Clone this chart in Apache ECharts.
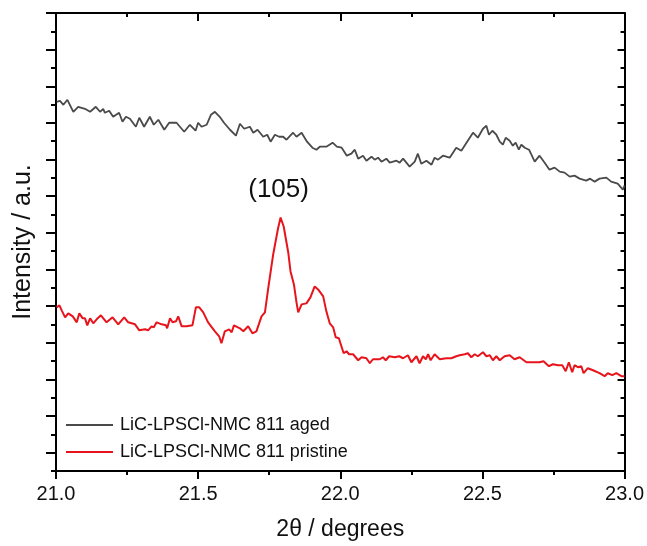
<!DOCTYPE html>
<html>
<head>
<meta charset="utf-8">
<title>XRD (105) region</title>
<script src="https://cdn.jsdelivr.net/npm/echarts@6/dist/echarts.min.js"></script>
<style>
  html, body { margin: 0; padding: 0; background: #fff; }
  #chart { width: 647px; height: 546px; }
</style>
</head>
<body>
<div id="chart"></div>
<script>
// 2θ (degrees) and intensity (a.u.) for the aged sample
const agedTheta = [21.002,21.014,21.026,21.040,21.061,21.078,21.102,21.120,21.140,21.155,21.166,21.172,21.187,21.201,21.222,21.234,21.246,21.260,21.281,21.293,21.310,21.330,21.344,21.360,21.381,21.398,21.424,21.451,21.471,21.491,21.500,21.512,21.530,21.545,21.559,21.576,21.591,21.612,21.633,21.647,21.662,21.682,21.694,21.709,21.729,21.743,21.755,21.770,21.785,21.799,21.811,21.834,21.846,21.864,21.883,21.902,21.916,21.928,21.951,21.973,21.988,22.005,22.023,22.039,22.051,22.063,22.080,22.092,22.110,22.121,22.133,22.145,22.162,22.174,22.198,22.209,22.221,22.244,22.262,22.273,22.285,22.303,22.321,22.332,22.344,22.361,22.385,22.408,22.426,22.444,22.467,22.484,22.502,22.514,22.523,22.535,22.549,22.561,22.572,22.582,22.596,22.607,22.617,22.628,22.637,22.649,22.664,22.684,22.701,22.719,22.736,22.754,22.772,22.789,22.807,22.824,22.842,22.865,22.879,22.895,22.912,22.936,22.953,22.976,22.994,23.000];
const agedIntensity = [370,371,367,372,360,365,363,360,365,360,363,359,361,355,359,350,355,353,345,354,345,355,347,352,342,349,349,340,347,341,349,345,347,357,360,355,349,342,336,348,343,345,339,342,335,337,330,337,335,335,332,339,335,339,330,324,322,325,325,329,325,324,316,318,322,313,316,311,315,312,314,310,313,309,311,309,313,305,310,318,308,311,307,314,312,316,314,324,321,329,339,334,343,346,337,341,337,330,327,334,331,326,329,322,327,324,322,310,316,309,302,304,300,299,295,296,293,291,293,290,293,294,290,288,282,286];

// 2θ (degrees) and intensity (a.u.) for the pristine sample
const pristineTheta = [21.002,21.012,21.020,21.032,21.043,21.059,21.073,21.082,21.094,21.102,21.110,21.120,21.131,21.143,21.158,21.178,21.199,21.219,21.240,21.254,21.278,21.293,21.313,21.324,21.336,21.344,21.354,21.372,21.387,21.391,21.401,21.410,21.422,21.430,21.442,21.459,21.480,21.492,21.504,21.518,21.535,21.559,21.574,21.582,21.594,21.609,21.618,21.626,21.647,21.659,21.676,21.691,21.705,21.723,21.735,21.746,21.764,21.781,21.790,21.801,21.817,21.825,21.837,21.846,21.852,21.864,21.881,21.895,21.910,21.922,21.940,21.951,21.963,21.975,21.984,21.995,22.004,22.012,22.022,22.031,22.045,22.063,22.075,22.092,22.104,22.115,22.139,22.150,22.160,22.172,22.192,22.207,22.221,22.238,22.250,22.268,22.279,22.291,22.301,22.309,22.318,22.332,22.350,22.373,22.391,22.408,22.420,22.438,22.449,22.461,22.473,22.484,22.502,22.514,22.526,22.537,22.549,22.561,22.578,22.596,22.613,22.631,22.655,22.678,22.701,22.715,22.734,22.748,22.766,22.781,22.793,22.804,22.816,22.824,22.836,22.848,22.856,22.871,22.889,22.912,22.930,22.941,22.957,22.971,22.989,23.000];
const pristineIntensity = [164,166,161,154,158,155,149,158,153,153,146,153,148,152,156,149,154,147,154,149,147,141,142,141,145,144,149,147,146,143,153,149,150,155,145,145,146,164,164,159,149,140,135,128,140,142,139,146,143,140,145,138,140,155,159,182,217,243,254,245,219,200,187,169,159,167,168,174,185,182,175,160,148,144,134,133,125,118,120,117,117,111,114,113,108,112,112,114,111,115,114,115,113,116,109,115,108,115,112,117,111,117,112,113,113,115,116,117,118,114,117,115,119,115,116,111,115,111,115,116,112,114,109,109,109,110,105,107,106,106,100,109,99,106,104,105,98,103,101,98,95,98,96,98,95,95];

const seriesNames = ['LiC-LPSCl-NMC 811 aged', 'LiC-LPSCl-NMC 811 pristine'];
const xTickLabels = ['21.0', '21.5', '22.0', '22.5', '23.0'];
const peakLabel = '(105)';
const peakTheta = 21.790;
const peakIntensity = 254;

// intensity axis: 25 half-steps, long ticks on odd half-steps
const yMax = 459;
const yStep = yMax / 25;
const yMajor = [], yMinor = [];
for (let k = 0; k <= 25; k++) {
  (k % 2 === 1 ? yMajor : yMinor).push(+(k * yStep).toFixed(4));
}

const FONT = 'Liberation Sans, Arial, sans-serif';
const INK = '#111';
const AGED = '#4a4a4a';
const PRISTINE = '#e8141c';
const toPairs = (xs, ys) => xs.map((x, i) => [x, ys[i]]);

function xAx(pos, inside, showLabel) {
  return {
    type: 'value', position: pos, min: 21, max: 23, interval: 0.5,
    axisLine: { show: true, onZero: false, lineStyle: { color: '#000', width: 2 } },
    axisTick: { show: true, inside: inside, length: 8, lineStyle: { color: '#000', width: 2 } },
    minorTick: { show: true, splitNumber: 2, length: 4, lineStyle: { color: '#000', width: 2 } },
    axisLabel: {
      show: showLabel, margin: 13, fontSize: 20, color: INK, fontFamily: FONT,
      formatter: v => xTickLabels[Math.round((v - 21) / 0.5)]
    },
    splitLine: { show: false }, minorSplitLine: { show: false }
  };
}

function yAx(pos, values, len, inside, line, extra) {
  return Object.assign({
    type: 'value', position: pos, min: 0, max: yMax,
    axisLine: { show: line, onZero: false, lineStyle: { color: '#000', width: 2 } },
    axisTick: { show: true, inside: inside, length: len, customValues: values, lineStyle: { color: '#000', width: 2 } },
    axisLabel: { show: false },
    splitLine: { show: false }
  }, extra || {});
}

const chart = echarts.init(document.getElementById('chart'), null, { renderer: 'canvas' });
chart.setOption({
  animation: false,
  backgroundColor: '#fff',
  grid: { left: 56, right: 22, top: 13, bottom: 74, containLabel: false },
  xAxis: [
    Object.assign(xAx('bottom', false, true), {
      name: '2θ / degrees', nameLocation: 'middle', nameGap: 47,
      nameTextStyle: { fontSize: 23, color: INK, fontFamily: FONT }
    }),
    xAx('top', true, false)
  ],
  yAxis: [
    yAx('left', yMajor, 10, false, true, {
      name: 'Intensity / a.u.', nameLocation: 'middle', nameGap: 20,
      nameTextStyle: { fontSize: 25, color: INK, fontFamily: FONT }
    }),
    yAx('left', yMinor, 5, false, false),
    yAx('right', yMajor, 7, true, true),
    yAx('right', yMinor, 4, true, false)
  ],
  legend: {
    left: 61, top: 411, orient: 'vertical', itemGap: 9,
    itemWidth: 47, itemHeight: 2, selectedMode: false, icon: 'rect',
    textStyle: { fontSize: 18, lineHeight: 18, color: INK, fontFamily: FONT, padding: [0, 0, 0, 2] },
    data: seriesNames
  },
  series: [
    {
      name: seriesNames[0], type: 'line', xAxisIndex: 0, yAxisIndex: 0,
      symbol: 'none', showSymbol: false, smooth: false,
      lineStyle: { color: AGED, width: 1.8 }, itemStyle: { color: AGED },
      data: toPairs(agedTheta, agedIntensity)
    },
    {
      name: seriesNames[1], type: 'line', xAxisIndex: 0, yAxisIndex: 0,
      symbol: 'none', showSymbol: false, smooth: false,
      lineStyle: { color: PRISTINE, width: 2 }, itemStyle: { color: PRISTINE },
      data: toPairs(pristineTheta, pristineIntensity),
      markPoint: {
        symbol: 'circle', symbolSize: 0,
        label: {
          show: true, formatter: peakLabel, position: 'inside', offset: [-2, -28],
          fontSize: 26, color: INK, fontFamily: FONT
        },
        data: [{ coord: [peakTheta, peakIntensity] }]
      }
    }
  ]
});
</script>
</body>
</html>
